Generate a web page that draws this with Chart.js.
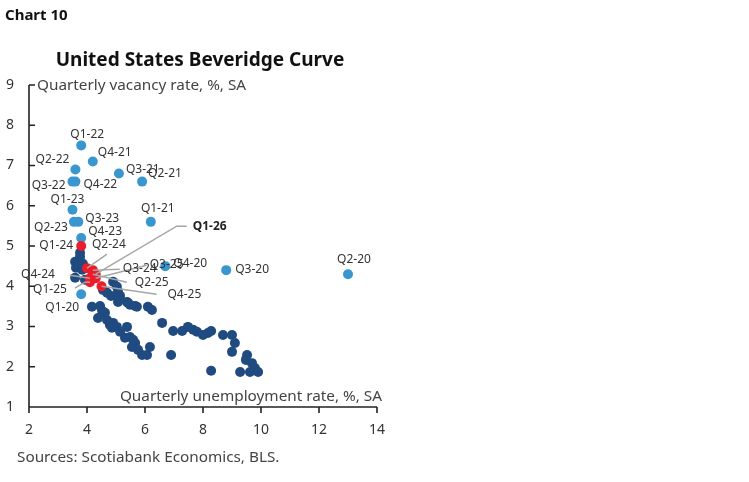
<!DOCTYPE html>
<html>
<head>
<meta charset="UTF-8" />
<title>United States Beveridge Curve</title>
<script src="https://cdn.jsdelivr.net/npm/chart.js"></script>
<style>
  html, body { margin: 0; padding: 0; background: #fff; }
  canvas { display: block; }
</style>
</head>
<body>
<canvas id="beveridgeChart" width="749" height="482"></canvas>
<script>
  // earlier quarters, no labels (unemployment %, vacancy %)
  const histUnemployment = [3.76, 3.76, 3.59, 3.69, 3.86, 3.62, 3.83, 3.59, 3.93,
    4.55, 4.69, 4.83, 4.90, 5.03, 5.07, 5.14, 5.38, 5.66, 6.10, 6.24,
    4.17, 4.45, 4.52, 4.62, 4.38, 4.69, 4.79, 4.90, 5.03, 4.86, 5.14, 5.38, 5.31, 5.48,
    5.59, 5.66, 5.55, 5.76, 5.90, 6.07, 6.17, 5.07, 5.41, 5.48, 5.72,
    6.59, 6.90, 6.97, 7.28, 7.48, 7.66, 7.79, 8.00, 8.17, 8.28, 8.69, 9.00, 9.10, 9.00,
    8.28, 9.28, 9.52, 9.48, 9.69, 9.79, 9.90, 9.62];
  const histVacancy = [4.83, 4.73, 4.61, 4.58, 4.56, 4.46, 4.41, 4.21, 4.16,
    3.91, 3.84, 3.76, 4.11, 3.99, 3.86, 3.76, 3.61, 3.51, 3.49, 3.41,
    3.49, 3.51, 3.39, 3.34, 3.21, 3.16, 3.04, 3.09, 2.99, 2.97, 2.87, 2.99, 2.72, 2.74,
    2.67, 2.59, 2.49, 2.42, 2.29, 2.29, 2.49, 3.61, 3.59, 3.54, 3.49,
    3.09, 2.29, 2.89, 2.89, 2.99, 2.92, 2.87, 2.79, 2.84, 2.89, 2.79, 2.79, 2.59, 2.37,
    1.90, 1.87, 2.29, 2.17, 2.09, 1.97, 1.87, 1.87];

  // 2020 - 2023
  const pandemicLabels = ['Q1-20', 'Q2-20', 'Q3-20', 'Q4-20', 'Q1-21', 'Q2-21', 'Q3-21', 'Q4-21',
    'Q1-22', 'Q2-22', 'Q3-22', 'Q4-22', 'Q1-23', 'Q2-23', 'Q3-23', 'Q4-23'];
  const pandemicUnemployment = [3.8, 13.0, 8.8, 6.7, 6.2, 5.9, 5.1, 4.2, 3.8, 3.6, 3.5, 3.6, 3.5, 3.55, 3.7, 3.8];
  const pandemicVacancy = [3.8, 4.3, 4.4, 4.5, 5.6, 6.6, 6.8, 7.1, 7.5, 6.9, 6.6, 6.6, 5.9, 5.6, 5.6, 5.2];

  // 2024 onwards
  const recentLabels = ['Q1-24', 'Q2-24', 'Q3-24', 'Q4-24', 'Q1-25', 'Q2-25', 'Q3-25', 'Q4-25', 'Q1-26'];
  const recentUnemployment = [3.8, 4.0, 4.2, 4.1, 4.1, 4.2, 4.3, 4.5, 4.3];
  const recentVacancy = [5.0, 4.45, 4.4, 4.2, 4.1, 4.3, 4.2, 4.0, 4.3];

  const xTicks = [2, 4, 6, 8, 10, 12, 14];
  const yTicks = [1, 2, 3, 4, 5, 6, 7, 8, 9];

  // where each point label sits, in pixels from its point
  const labelPlacement = {
    'Q1-20': { dx: -19, dy: 13, align: 'center' },
    'Q2-20': { dx: 6, dy: -15, align: 'center' },
    'Q3-20': { dx: 9, dy: -1, align: 'left' },
    'Q4-20': { dx: 8, dy: -3, align: 'left' },
    'Q1-21': { dx: 7, dy: -13, align: 'center' },
    'Q2-21': { dx: 6, dy: -8, align: 'left' },
    'Q3-21': { dx: 7, dy: -4, align: 'left' },
    'Q4-21': { dx: 5, dy: -9, align: 'left' },
    'Q1-22': { dx: 6, dy: -11, align: 'center' },
    'Q2-22': { dx: -6, dy: -10, align: 'right' },
    'Q3-22': { dx: -7, dy: 4, align: 'right' },
    'Q4-22': { dx: 8, dy: 3, align: 'left' },
    'Q1-23': { dx: -5, dy: -10, align: 'center' },
    'Q2-23': { dx: -6, dy: 6, align: 'right' },
    'Q3-23': { dx: 7, dy: -3, align: 'left' },
    'Q4-23': { dx: 7, dy: -6, align: 'left' },
    'Q1-24': { dx: -8, dy: 0, align: 'right' },
    'Q2-24': { dx: 5, dy: -24, align: 'left', lead: [[20, -14]] },
    'Q3-24': { dx: 30, dy: -2, align: 'left', lead: [[27, -1]] },
    'Q4-24': { dx: -35, dy: -4, align: 'right', lead: [[-20, -3]] },
    'Q1-25': { dx: -23, dy: 7, align: 'right', lead: [[-5, 0], [-15, 6]] },
    'Q2-25': { dx: 42, dy: 8, align: 'left', lead: [[34, 8]] },
    'Q3-25': { dx: 54, dy: -14, align: 'left', lead: [[51, -13]] },
    'Q4-25': { dx: 66, dy: 8, align: 'left', lead: [[55, 8]] },
    'Q1-26': { dx: 97, dy: -48, align: 'left', lead: [[81, -48], [91, -48]], bold: true }
  };

  const FONT = "'Noto Sans', 'Open Sans', sans-serif";
  const navy = '#1f4b80';
  const sky = '#3a96cf';
  const red = '#ec1c2a';

  function toPoints(xs, ys) {
    return xs.map((x, i) => ({ x: x, y: ys[i] }));
  }

  const axesPlugin = {
    id: 'axesLines',
    afterDatasetsDraw(chart) {
      const ctx = chart.ctx;
      const xs = chart.scales.x;
      const ys = chart.scales.y;
      const left = xs.getPixelForValue(2);
      const bottom = ys.getPixelForValue(1);
      ctx.save();
      ctx.strokeStyle = '#222';
      ctx.lineWidth = 1.6;
      ctx.beginPath();
      ctx.moveTo(left, ys.getPixelForValue(9));
      ctx.lineTo(left, bottom + 6);
      ctx.moveTo(left, bottom);
      ctx.lineTo(xs.getPixelForValue(14), bottom);
      yTicks.forEach(v => {
        const py = ys.getPixelForValue(v);
        ctx.moveTo(left, py);
        ctx.lineTo(left + 6, py);
      });
      xTicks.forEach(v => {
        const px = xs.getPixelForValue(v);
        ctx.moveTo(px, bottom);
        ctx.lineTo(px, bottom + 6);
      });
      ctx.stroke();

      // leader lines and point labels
      ctx.strokeStyle = '#a6a6a6';
      ctx.lineWidth = 1.5;
      const drawLabels = (labels, xv, yv) => {
        labels.forEach((lab, i) => {
          const p = labelPlacement[lab];
          const px = xs.getPixelForValue(xv[i]);
          const py = ys.getPixelForValue(yv[i]);
          if (p.lead) {
            ctx.beginPath();
            ctx.moveTo(px, py);
            p.lead.forEach(d => ctx.lineTo(px + d[0], py + d[1]));
            ctx.stroke();
          }
        });
        labels.forEach((lab, i) => {
          const p = labelPlacement[lab];
          const px = xs.getPixelForValue(xv[i]);
          const py = ys.getPixelForValue(yv[i]);
          ctx.font = (p.bold ? 'bold ' : '') + '12px ' + FONT;
          ctx.fillStyle = p.bold ? '#222' : '#333';
          ctx.textAlign = p.align;
          ctx.textBaseline = 'middle';
          ctx.fillText(lab, px + p.dx, py + p.dy);
        });
      };
      drawLabels(pandemicLabels, pandemicUnemployment, pandemicVacancy);
      drawLabels(recentLabels, recentUnemployment, recentVacancy);
      ctx.restore();
    },
    afterDraw(chart) {
      const ctx = chart.ctx;
      ctx.save();
      ctx.textBaseline = 'middle';
      ctx.fillStyle = '#111';
      ctx.textAlign = 'left';
      ctx.font = 'bold 15px ' + FONT;
      ctx.fillText('Chart 10', 5, 16);
      ctx.textAlign = 'center';
      ctx.font = 'bold 19px ' + FONT;
      ctx.fillText('United States Beveridge Curve', 200, 61);
      ctx.fillStyle = '#444';
      ctx.font = '15.3px ' + FONT;
      ctx.textAlign = 'left';
      ctx.fillText('Quarterly vacancy rate, %, SA', 37, 86);
      ctx.textAlign = 'right';
      ctx.fillText('Quarterly unemployment rate, %, SA', 382, 397);
      ctx.textAlign = 'left';
      ctx.fillText('Sources: Scotiabank Economics, BLS.', 17, 458);
      ctx.restore();
    }
  };

  const chart = new Chart(document.getElementById('beveridgeChart'), {
    type: 'scatter',
    data: {
      datasets: [
        {
          label: '2024 onwards',
          data: toPoints(recentUnemployment, recentVacancy),
          backgroundColor: red,
          borderWidth: 0,
          pointRadius: 5,
          order: 0
        },
        {
          label: '2020 - 2023',
          data: toPoints(pandemicUnemployment, pandemicVacancy),
          backgroundColor: sky,
          borderWidth: 0,
          pointRadius: 5,
          order: 1
        },
        {
          label: 'Earlier',
          data: toPoints(histUnemployment, histVacancy),
          backgroundColor: navy,
          borderWidth: 0,
          pointRadius: 5,
          order: 2
        }
      ]
    },
    options: {
      responsive: false,
      animation: false,
      layout: { padding: { top: 85, right: 372, left: 0, bottom: 0 } },
      plugins: { legend: { display: false }, tooltip: { enabled: false } },
      scales: {
        x: {
          type: 'linear',
          min: 2,
          max: 14,
          afterBuildTicks: s => { s.ticks = xTicks.map(v => ({ value: v })); },
          afterFit: s => { s.height = 75; },
          grid: { display: false, drawTicks: false },
          border: { display: false },
          ticks: { color: '#333', padding: 15, font: { size: 14, family: FONT } }
        },
        y: {
          type: 'linear',
          min: 1,
          max: 9,
          afterBuildTicks: s => { s.ticks = yTicks.map(v => ({ value: v })); },
          afterFit: s => { s.width = 29; },
          grid: { display: false, drawTicks: false },
          border: { display: false },
          ticks: { color: '#333', padding: 15, font: { size: 14, family: FONT } }
        }
      }
    },
    plugins: [axesPlugin]
  });
</script>
</body>
</html>
